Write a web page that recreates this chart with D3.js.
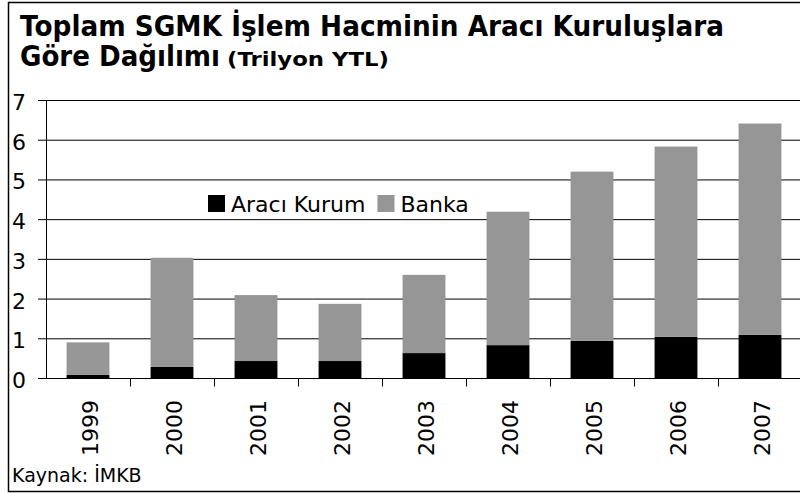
<!DOCTYPE html>
<html>
<head>
<meta charset="utf-8">
<script src="https://cdn.jsdelivr.net/npm/d3@7"></script>
<style>
  html, body { margin: 0; padding: 0; background: #fff; }
  svg { display: block; }
</style>
</head>
<body>
<div id="chart"></div>
<script>
// values (trilyon YTL)
const years = ['1999', '2000', '2001', '2002', '2003', '2004', '2005', '2006', '2007'];
const araciKurum = [0.09, 0.29, 0.44, 0.44, 0.64, 0.84, 0.95, 1.05, 1.10];
const banka = [0.82, 2.75, 1.66, 1.44, 1.97, 3.36, 4.26, 4.79, 5.32];
const seriesNames = ['Aracı Kurum', 'Banka'];
const seriesColors = ['#000000', '#969696'];
const yTicks = [0, 1, 2, 3, 4, 5, 6, 7];

const titleLine1 = 'Toplam SGMK İşlem Hacminin Aracı Kuruluşlara';
const titleLine2 = 'Göre Dağılımı';
const titleUnit = '(Trilyon YTL)';
const sourceText = 'Kaynak: İMKB';

let width = 800, height = 493;
let labelFont = '"DejaVu Sans", Verdana, sans-serif';
let titleFont = '"DejaVu Sans", Verdana, sans-serif';

const svg = d3.select('#chart').append('svg')
  .attr('width', width)
  .attr('height', height);

// outer frame (right edge runs off the picture)
svg.append('rect')
  .attr('x', 8.5).attr('y', 2.5)
  .attr('width', 800).attr('height', 489)
  .attr('fill', '#fff')
  .attr('stroke', '#000').attr('stroke-width', 1.5);

// table for the stack
const table = years.map((y, i) => ({year: y, 'Aracı Kurum': araciKurum[i], 'Banka': banka[i]}));
const stacked = d3.stack().keys(seriesNames)(table);

const x = d3.scaleBand()
  .domain(years)
  .range([46, 802])
  .paddingInner(0.49)
  .paddingOuter(0.245);

const y = d3.scaleLinear()
  .domain([0, 7])
  .range([378.5, 100.5]);

// gridlines + y tick labels
const grid = svg.append('g');
grid.selectAll('line')
  .data(yTicks)
  .join('line')
  .attr('x1', 38).attr('x2', 802)
  .attr('y1', d => y(d)).attr('y2', d => y(d))
  .attr('stroke', '#000').attr('stroke-width', 1);

grid.selectAll('text')
  .data(yTicks)
  .join('text')
  .attr('x', 26)
  .attr('y', d => y(d) + 9.5)
  .attr('text-anchor', 'end')
  .attr('font-family', labelFont)
  .attr('font-size', 22)
  .text(d => d);

// y axis line
svg.append('line')
  .attr('x1', 46.5).attr('x2', 46.5)
  .attr('y1', y(7)).attr('y2', y(0))
  .attr('stroke', '#000');

// bars
svg.append('g')
  .selectAll('g')
  .data(stacked)
  .join('g')
  .attr('fill', (d, i) => seriesColors[i])
  .selectAll('rect')
  .data(d => d)
  .join('rect')
  .attr('x', d => x(d.data.year))
  .attr('width', x.bandwidth())
  .attr('y', d => y(d[1]))
  .attr('height', d => y(d[0]) - y(d[1]));

// x axis baseline redrawn on top
svg.append('line')
  .attr('x1', 38).attr('x2', 802)
  .attr('y1', y(0)).attr('y2', y(0))
  .attr('stroke', '#000');

// category separators below the axis
const step = x.step();
svg.append('g')
  .selectAll('line')
  .data(years)
  .join('line')
  .attr('x1', (d, i) => Math.round(46 + (i + 1) * step) + 0.5)
  .attr('x2', (d, i) => Math.round(46 + (i + 1) * step) + 0.5)
  .attr('y1', y(0)).attr('y2', y(0) + 8)
  .attr('stroke', '#000');

// rotated year labels
svg.append('g')
  .selectAll('text')
  .data(years)
  .join('text')
  .attr('transform', d => `translate(${x(d) + x.bandwidth() / 2 + 10},400) rotate(-90)`)
  .attr('text-anchor', 'end')
  .attr('font-family', labelFont)
  .attr('font-size', 22)
  .text(d => d);

// legend
const legend = svg.append('g');
let lx = 208;
seriesNames.forEach((name, i) => {
  legend.append('rect')
    .attr('x', lx).attr('y', 195)
    .attr('width', 17).attr('height', 17)
    .attr('fill', seriesColors[i]);
  const t = legend.append('text')
    .attr('x', lx + 23).attr('y', 212)
    .attr('font-family', labelFont)
    .attr('font-size', 22)
    .text(name);
  lx += 23 + t.node().getComputedTextLength() + 12;
});

// title
svg.append('text')
  .attr('x', 20).attr('y', 36)
  .attr('font-family', titleFont)
  .attr('font-weight', 'bold')
  .attr('font-size', 28)
  .attr('textLength', 704).attr('lengthAdjust', 'spacingAndGlyphs')
  .text(titleLine1);

svg.append('text')
  .attr('x', 20).attr('y', 66)
  .attr('font-family', titleFont)
  .attr('font-weight', 'bold')
  .attr('font-size', 28)
  .attr('textLength', 200).attr('lengthAdjust', 'spacingAndGlyphs')
  .text(titleLine2);

svg.append('text')
  .attr('x', 227).attr('y', 66)
  .attr('font-family', titleFont)
  .attr('font-weight', 'bold')
  .attr('font-size', 20)
  .attr('textLength', 162).attr('lengthAdjust', 'spacingAndGlyphs')
  .text(titleUnit);

// source
svg.append('text')
  .attr('x', 12).attr('y', 482)
  .attr('font-family', labelFont)
  .attr('font-size', 19)
  .text(sourceText);
</script>
</body>
</html>
